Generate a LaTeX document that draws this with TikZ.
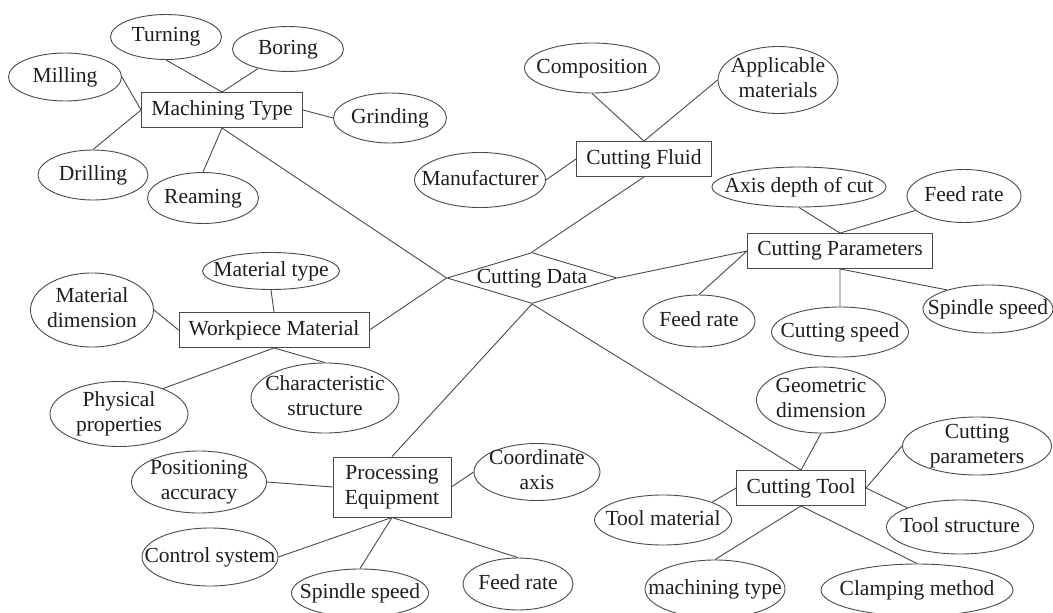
\documentclass[tikz,border=0pt]{standalone}
\usepackage{fontspec}
\setmainfont{Liberation Serif}
\usetikzlibrary{shapes.geometric}
\definecolor{ln}{HTML}{4A4A4A}
\definecolor{tx}{HTML}{1E1E1E}
% zero-size centred text, so that the shape takes only its minimum size
\newcommand\zc[1]{\makebox[0pt]{\vbox to 0pt{\vss\hbox{\begin{tabular}{@{}c@{}}#1\end{tabular}}\vss}}}
\tikzset{
  oval/.style={ellipse, draw=ln, line width=0.9pt, inner sep=0pt, text=tx,
    font=\fontsize{21.5}{25}\selectfont},
  box/.style={rectangle, draw=ln, line width=0.9pt, inner sep=0pt, text=tx, align=center,
    font=\fontsize{21.5}{25}\selectfont, minimum height=35pt},
  dia/.style={diamond, draw=ln, line width=0.9pt, inner sep=0pt, text=tx,
    font=\fontsize{21.5}{25}\selectfont},
  conn/.style={draw=ln, line width=0.9pt}
}
\begin{document}
\begin{tikzpicture}[x=1pt,y=-1pt]
\useasboundingbox (0,0) rectangle (1053,613);
\fill[white] (0,0) rectangle (1053,613);
% central
\node[dia, minimum width=170pt, minimum height=51pt] (CD) at (532,278) {\zc{Cutting Data}};
% machining type
\node[box, minimum width=161pt] (MT) at (222,110) {Machining Type};
\node[oval, minimum width=111pt, minimum height=45pt] (Turn) at (166,37) {\zc{Turning}};
\node[oval, minimum width=111pt, minimum height=45pt] (Bor) at (288,49) {\zc{Boring}};
\node[oval, minimum width=113pt, minimum height=48pt] (Mill) at (65,77) {\zc{Milling}};
\node[oval, minimum width=113pt, minimum height=50pt] (Grind) at (390,118) {\zc{Grinding}};
\node[oval, minimum width=110pt, minimum height=50pt] (Drill) at (93,175) {\zc{Drilling}};
\node[oval, minimum width=111pt, minimum height=51pt] (Ream) at (203,198) {\zc{Reaming}};
% cutting fluid
\node[box, minimum width=135pt] (CF) at (644,159) {Cutting Fluid};
\node[oval, minimum width=135pt, minimum height=50pt] (Comp) at (592,68) {\zc{Composition}};
\node[oval, minimum width=120pt, minimum height=67pt] (Appl) at (778,80) {\zc{Applicable\\materials}};
\node[oval, minimum width=131pt, minimum height=55pt] (Manu) at (480,180) {\zc{Manufacturer}};
% cutting parameters
\node[box, minimum width=185pt] (CP) at (840,251) {Cutting Parameters};
\node[oval, minimum width=174pt, minimum height=40pt] (Axis) at (799,187) {\zc{Axis depth of cut}};
\node[oval, minimum width=114pt, minimum height=53pt] (FRt) at (964,196) {\zc{Feed rate}};
\node[oval, minimum width=112pt, minimum height=52pt] (FRl) at (699,321) {\zc{Feed rate}};
\node[oval, minimum width=137pt, minimum height=50pt] (CSp) at (840,332) {\zc{Cutting speed}};
\node[oval, minimum width=130pt, minimum height=48pt] (SpR) at (988,309) {\zc{Spindle speed}};
% workpiece material
\node[box, minimum width=190pt] (WM) at (274,330) {Workpiece Material};
\node[oval, minimum width=137pt, minimum height=37pt] (MTy) at (271,271) {\zc{Material type}};
\node[oval, minimum width=123pt, minimum height=74pt] (MDim) at (92,310) {\zc{Material\\dimension}};
\node[oval, minimum width=138pt, minimum height=65pt] (Phys) at (119,414) {\zc{Physical\\properties}};
\node[oval, minimum width=148pt, minimum height=70pt] (Char) at (325,398) {\zc{Characteristic\\structure}};
% processing equipment
\node[box, minimum width=118pt, minimum height=60pt] (PE) at (392,487) {Processing\\Equipment};
\node[oval, minimum width=135pt, minimum height=62pt] (PosA) at (199,482) {\zc{Positioning\\accuracy}};
\node[oval, minimum width=126pt, minimum height=57pt] (Coord) at (537,472) {\zc{Coordinate\\axis}};
\node[oval, minimum width=136pt, minimum height=58pt] (Ctrl) at (210,557) {\zc{Control system}};
\node[oval, minimum width=137pt, minimum height=48pt] (SpB) at (360,593) {\zc{Spindle speed}};
\node[oval, minimum width=110pt, minimum height=52pt] (FRb) at (518,584) {\zc{Feed rate}};
% cutting tool
\node[box, minimum width=129pt] (CT) at (801,488) {Cutting Tool};
\node[oval, minimum width=129pt, minimum height=66pt] (Geo) at (821,400) {\zc{Geometric\\dimension}};
\node[oval, minimum width=149pt, minimum height=58pt] (CPar) at (977,446) {\zc{Cutting\\parameters}};
\node[oval, minimum width=147pt, minimum height=54pt] (TStr) at (960,527) {\zc{Tool structure}};
\node[oval, minimum width=137pt, minimum height=50pt] (TMat) at (663,520) {\zc{Tool material}};
\node[oval, minimum width=140pt, minimum height=58pt] (MTyp) at (715,589) {\zc{machining type}};
\node[oval, minimum width=192pt, minimum height=52pt] (Clamp) at (917,590) {\zc{Clamping method}};
% connectors
\path[conn]
  (Turn.south) -- (MT.north)
  (Bor) -- (MT.north)
  (Mill.east) -- (MT.west)
  (Drill.north) -- (MT.west)
  (MT.east) -- (Grind.west)
  (MT.south) -- (Ream.north)
  (MT.south) -- (CD.west)
  (Comp.south) -- (CF.north)
  (Appl.west) -- (CF.north)
  (Manu.east) -- (CF.west)
  (CF.south) -- (CD.north)
  (Axis.south) -- (CP.north)
  (FRt) -- (CP.north)
  (CD.east) -- (CP.west)
  (FRl.north) -- (CP.west)
  (CP.south) -- (CSp.north)
  (CP.south) -- (SpR.155)
  (MTy.south) -- (WM.north)
  (MDim.east) -- (WM.west)
  (WM.south) -- (Phys.30)
  (WM.south) -- (Char.north)
  (WM.east) -- (CD.west)
  (CD.south) -- (PE.north)
  (PosA.east) -- (PE.west)
  (PE.east) -- (Coord.west)
  (Ctrl.east) -- (PE.south)
  (SpB.north) -- (PE.south)
  (PE.south) -- (FRb.north)
  (CD.south) -- (CT.north)
  (Geo.south) -- (CT.north)
  (CT.east) -- (CPar.west)
  (CT.east) -- (TStr.160)
  (TMat.20) -- (CT.west)
  (CT.south) -- (MTyp.north)
  (CT.south) -- (Clamp.north);
\end{tikzpicture}
\end{document}
